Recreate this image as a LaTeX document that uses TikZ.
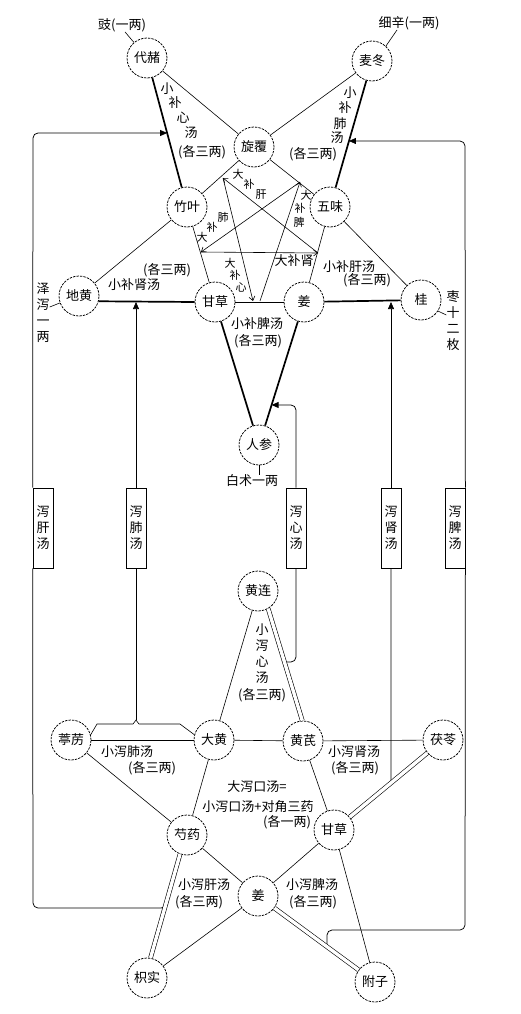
\documentclass[tikz,border=0pt]{standalone}
\usepackage{fontspec}
\setmainfont{Noto Sans CJK SC}
\usetikzlibrary{arrows.meta,calc}
\begin{document}
\begin{tikzpicture}[x=1pt,y=-1pt,
  herb/.style={circle,draw,dash pattern=on 2.4pt off 1.1pt,line width=0.75pt,minimum size=40pt,inner sep=0pt,font=\fontsize{13}{13}\selectfont,fill=white},
  lbl/.style={inner sep=0pt,font=\fontsize{13}{13}\selectfont},
  slbl/.style={inner sep=0pt,font=\fontsize{11}{11}\selectfont},
  vlbl/.style={inner sep=0pt,align=center,font=\fontsize{13}{16}\selectfont},
  tline/.style={line width=0.6pt},
  bline/.style={line width=1.7pt},
  dbl/.style={draw=black,double=white,double distance=3.4pt,line width=0.6pt},
  inarr/.style={line width=0.6pt,-{Straight Barb[length=4pt,width=6pt]}},
  fl/.style={line width=0.75pt,rounded corners=5pt},
  fbtip/.style={-{Triangle[length=7pt,width=6pt]}},
  fbox/.style={draw,line width=0.75pt,fill=white,minimum width=20pt,minimum height=80pt,inner sep=0pt,align=center,font=\fontsize{13}{16}\selectfont}
]
\fill[white] (0,0) rectangle (521,1014);
\useasboundingbox (0,0) rectangle (521,1014);

% ---------- top pentagram nodes
\node[herb] (daizhe) at (147,58) {代赭};
\node[herb] (maidong) at (372,61) {麦冬};
\node[herb] (xuanfu) at (254,147) {旋覆};
\node[herb] (zhuye) at (187,207) {竹叶};
\node[herb] (wuwei) at (330,207) {五味};
\node[herb] (dihuang) at (79,296) {地黄};
\node[herb] (gui) at (421,300) {桂};
\node[herb] (gancaoA) at (215,302) {甘草};
\node[herb] (jiangA) at (304,302) {姜};
\node[herb] (renshen) at (259,445) {人参};

% ---------- bottom pentagram nodes
\node[herb] (huanglian) at (258,591) {黄连};
\node[herb] (dahuang) at (214,740) {大黄};
\node[herb] (huangqi) at (303,741) {黄芪};
\node[herb] (tingli) at (71,740) {葶苈};
\node[herb] (fuling) at (443,740) {茯苓};
\node[herb] (shaoyao) at (187,835) {芍药};
\node[herb] (gancaoB) at (334,830) {甘草};
\node[herb] (jiangB) at (258,896) {姜};
\node[herb] (zhishi) at (147,978) {枳实};
\node[herb] (fuzi) at (375,982) {附子};

% ---------- boxes
\node[fbox] (xgan) at (43,528) {泻\\肝\\汤};
\node[fbox] (xfei) at (136,528) {泻\\肺\\汤};
\node[fbox] (xxin) at (296,528) {泻\\心\\汤};
\node[fbox] (xshen) at (391,528) {泻\\肾\\汤};
\node[fbox] (xpi) at (455,528) {泻\\脾\\汤};

% ---------- side labels
\node[lbl] (chi) at (122,25) {豉(一两)};
\node[lbl] (xixin) at (409,23) {细辛(一两)};
\node[vlbl] (zexie) at (43,313) {泽\\泻\\一\\两};
\node[vlbl] (zao) at (453,321) {枣\\十\\二\\枚};
\node[lbl] (baizhu) at (252,481) {白术一两};
\draw[tline] ($(chi.south)+(3,0)$) -- (daizhe.130);
\draw[tline] ($(xixin.south)+(-12,0)$) -- (maidong.47);
\draw[tline] ($(zexie.east)+(0,-6)$) -- (dihuang.200);
\draw[tline] (gui.-33) -- ($(zao.west)+(0,-6)$);
\draw[tline] (renshen.south) -- (renshen.south |- baizhu.north);

% ---------- top edges
\draw[bline] (daizhe) -- (zhuye);
\draw[bline] (maidong) -- (wuwei);
\draw[bline] (dihuang.-15) -- (gancaoA.west);
\draw[bline] (jiangA) -- (gui);
\draw[bline] (gancaoA) -- (renshen);
\draw[bline] (jiangA) -- (renshen);
\draw[tline] (daizhe) -- (xuanfu);
\draw[tline] (maidong) -- (xuanfu);
\draw[tline] (zhuye) -- (dihuang);
\draw[tline] (wuwei) -- (gui);
\draw[tline] (xuanfu) -- (zhuye);
\draw[tline] (xuanfu) -- (wuwei);
\draw[tline] (zhuye) -- (gancaoA);
\draw[tline] (wuwei) -- (jiangA);
\draw[tline] (gancaoA) -- (jiangA);

% ---------- inner arrows (大补)
\coordinate (pA) at (223,178);
\coordinate (pB) at (300,182);
\coordinate (pC) at (318,253);
\coordinate (pD) at (201,252);
\coordinate (pE1) at (253,301);
\coordinate (pE2) at (260,301);
\draw[inarr] (pC) -- (pA);
\draw[inarr] (pA) -- (pE1);
\draw[inarr] (pE2) -- (pB);
\draw[inarr] (pB) -- (pD);
\draw[inarr] (pD) -- (pC);
\node[slbl] (dg1) at (238,174) {大};
\node[slbl] (dg2) at (249,184) {补};
\node[slbl] (dg3) at (261,195) {肝};
\node[slbl] (df1) at (202,237) {大};
\node[slbl] (df2) at (212,227) {补};
\node[slbl] (df3) at (223,217) {肺};
\node[slbl] (dx1) at (230,263) {大};
\node[slbl] (dx2) at (235,275) {补};
\node[slbl] (dx3) at (241,287) {心};
\node[slbl] (dp1) at (306,195) {大};
\node[slbl] (dp2) at (300,208) {补};
\node[slbl] (dp3) at (299,222) {脾};
\node[lbl] (ds) at (294,261) {大补肾};

% ---------- top recipe labels
\node[lbl] (xbx1) at (167,89) {小};
\node[lbl] (xbx2) at (175,103) {补};
\node[lbl] (xbx3) at (183,118) {心};
\node[lbl] (xbx4) at (191,133) {汤};
\node[lbl] (xbx5) at (202,152) {(各三两)};
\node[lbl] (xbf1) at (350,93) {小};
\node[lbl] (xbf2) at (345,108) {补};
\node[lbl] (xbf3) at (340,124) {肺};
\node[lbl] (xbf4) at (337,138) {汤};
\node[lbl] (xbf5) at (313,154) {(各三两)};
\node[lbl] (xbs1) at (167,270) {(各三两)};
\node[lbl] (xbs2) at (134,285) {小补肾汤};
\node[lbl] (xbg1) at (349,267) {小补肝汤};
\node[lbl] (xbg2) at (367,280) {(各三两)};
\node[lbl] (xbp1) at (257,324) {小补脾汤};
\node[lbl] (xbp2) at (258,341) {(各三两)};

% ---------- bottom edges
\coordinate (hl1) at (huanglian.-60);
\coordinate (hq1) at (huangqi.92);
\coordinate (sy1) at (shaoyao.250);
\coordinate (zs1) at (zhishi.80);
\draw[tline] (huanglian) -- (dahuang);
\draw[tline] (tingli) -- (dahuang);
\draw[tline] (dahuang) -- (huangqi);
\draw[tline] (huangqi) -- (fuling);
\draw[tline] (tingli) -- (shaoyao);
\draw[tline] (dahuang) -- (shaoyao);
\draw[tline] (huangqi) -- (gancaoB);
\draw[tline] (shaoyao) -- (jiangB);
\draw[tline] (jiangB) -- (gancaoB);
\draw[tline] (jiangB) -- (zhishi);
\draw[tline] (gancaoB) -- (fuzi);

% ---------- feedback connectors
\coordinate (xg) at (intersection of daizhe--zhuye and 0,133--521,133);
\coordinate (xp) at (intersection of maidong--wuwei and 0,141--521,141);
\coordinate (xs) at (intersection of jiangA--renshen and 0,405--521,405);
\coordinate (fpt) at (136,302);
\coordinate (xr) at (391,302);
\coordinate (jl) at (intersection of sy1--zs1 and 0,903--521,903);
\coordinate (jr) at (intersection of jiangB--fuzi and 327,0--327,1014);
\coordinate (jx) at (intersection of hl1--hq1 and 0,662--521,662);
\coordinate (jk) at (intersection of fuling--gancaoB and 391,0--391,1014);
\coordinate (fpk) at (136,720);

\draw[fl] (jl) |- (33,908) -- (xgan.south west);
\draw[fl,fbtip] (xgan.north west) -- (33,133) -- (xg);
\draw[fl] (jr) |- (465,930) -- (xpi.south east);
\draw[fl,fbtip] (xpi.north east) -- (465,141) -- (xp);
\draw[fl] (jx) -- (296,662) -- (xxin.south);
\draw[fl,fbtip] (xxin.north) -- (296,405) -- (xs);
\draw[tline] (tingli.15) -- (97,724) -- (133,724) -- (fpk) -- (139,724) -- (180,724) -- (dahuang.165);
\draw[fl] (fpk) -- (xfei.south);
\draw[fl,fbtip] (xfei.north) -- (fpt);
\draw[fl] (jk) -- (xshen.south);
\draw[fl,fbtip] (xshen.north) -- (xr);

% ---------- double edges (on top)
\draw[dbl] (hl1) -- (hq1);
\draw[dbl] (fuling) -- (gancaoB);
\draw[dbl] (sy1) -- (zs1);
\draw[dbl] (jiangB) -- (fuzi);

% ---------- bottom labels
\node[vlbl] (xxx1) at (262,654) {小\\泻\\心\\汤};
\node[lbl] (xxx2) at (262,695) {(各三两)};
\node[lbl] (xxf1) at (127,752) {小泻肺汤};
\node[lbl] (xxf2) at (152,768) {(各三两)};
\node[lbl] (xxs1) at (354,752) {小泻肾汤};
\node[lbl] (xxs2) at (355,768) {(各三两)};
\node[lbl] (dxk1) at (257,787) {大泻口汤=};
\node[lbl] (dxk2) at (258,807) {小泻口汤+对角三药};
\node[lbl] (dxk3) at (287,822) {(各一两)};
\node[lbl] (xxg1) at (204,885) {小泻肝汤};
\node[lbl] (xxg2) at (199,902) {(各三两)};
\node[lbl] (xxp1) at (312,885) {小泻脾汤};
\node[lbl] (xxp2) at (313,902) {(各三两)};
\end{tikzpicture}
\end{document}
